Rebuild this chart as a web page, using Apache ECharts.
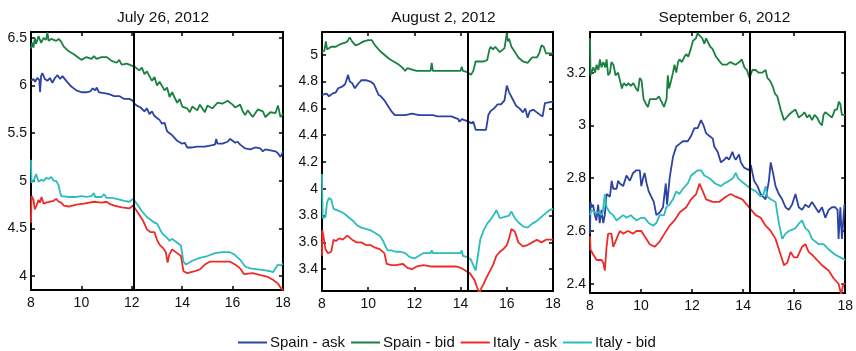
<!DOCTYPE html>
<html>
<head>
<meta charset="utf-8">
<script src="https://cdn.jsdelivr.net/npm/echarts@6/dist/echarts.min.js"></script>
<style>
html,body{margin:0;padding:0;background:#fff;}
#chart{width:856px;height:351px;}
</style>
</head>
<body>
<div id="chart"></div>
<script>
// ---------- DATA ----------
var panelTitles = ['July 26, 2012', 'August 2, 2012', 'September 6, 2012'];
var seriesNames = ['Spain - ask', 'Spain - bid', 'Italy - ask', 'Italy - bid'];
var eventTimes = [12.06, 14.30, 14.27];
var xTicks = [8, 10, 12, 14, 16, 18];
var yTicks1 = [4, 4.5, 5, 5.5, 6, 6.5];
var yTicks2 = [3.4, 3.6, 3.8, 4, 4.2, 4.4, 4.6, 4.8, 5];
var yTicks3 = [2.4, 2.6, 2.8, 3, 3.2];
var yRange1 = [3.853, 6.563];
var yRange2 = [3.237, 5.17];
var yRange3 = [2.365, 3.354];

// July 26, 2012
var julSpainAsk = [[8.0,6.05],[8.1,6.07],[8.16,6.04],[8.25,6.08],[8.33,6.06],[8.36,5.93],[8.4,6.1],[8.45,6.13],[8.55,6.07],[8.65,6.05],[8.75,6.08],[8.85,6.03],[8.95,6.08],[9.05,6.11],[9.15,6.07],[9.25,6.1],[9.4,6.05],[9.6,5.99],[9.8,5.95],[10.0,5.93],[10.2,5.93],[10.35,5.94],[10.45,5.97],[10.55,5.95],[10.6,5.98],[10.7,5.93],[10.9,5.92],[11.1,5.91],[11.3,5.89],[11.5,5.89],[11.7,5.86],[11.9,5.86],[12.05,5.84],[12.1,5.81],[12.2,5.79],[12.35,5.77],[12.5,5.73],[12.6,5.76],[12.7,5.7],[12.8,5.73],[12.9,5.68],[13.0,5.66],[13.1,5.64],[13.2,5.60],[13.3,5.61],[13.4,5.52],[13.5,5.5],[13.6,5.48],[13.8,5.42],[14.0,5.39],[14.1,5.4],[14.2,5.35],[14.4,5.35],[14.6,5.36],[14.9,5.36],[15.1,5.37],[15.3,5.38],[15.35,5.44],[15.4,5.39],[15.6,5.39],[15.8,5.41],[15.9,5.44],[16.0,5.42],[16.1,5.40],[16.2,5.41],[16.3,5.38],[16.5,5.34],[16.7,5.33],[16.9,5.35],[17.1,5.34],[17.2,5.31],[17.3,5.33],[17.5,5.32],[17.7,5.31],[17.8,5.29],[17.9,5.25],[18.0,5.31]];
var julSpainBid = [[8.0,6.39],[8.05,6.45],[8.1,6.40],[8.15,6.5],[8.2,6.44],[8.3,6.52],[8.4,6.45],[8.5,6.5],[8.6,6.48],[8.65,6.56],[8.7,6.47],[8.8,6.49],[9.0,6.47],[9.1,6.49],[9.2,6.46],[9.3,6.41],[9.5,6.36],[9.7,6.33],[9.9,6.29],[10.0,6.27],[10.2,6.30],[10.4,6.28],[10.5,6.31],[10.6,6.28],[10.8,6.30],[11.0,6.30],[11.2,6.26],[11.4,6.24],[11.5,6.27],[11.6,6.22],[11.8,6.23],[12.0,6.21],[12.1,6.20],[12.3,6.16],[12.4,6.19],[12.5,6.12],[12.6,6.15],[12.8,6.05],[12.9,6.09],[13.0,6.00],[13.1,6.04],[13.3,5.95],[13.4,5.98],[13.5,5.88],[13.6,5.93],[13.8,5.82],[13.9,5.86],[14.0,5.78],[14.2,5.76],[14.3,5.72],[14.4,5.78],[14.6,5.74],[14.7,5.80],[14.9,5.72],[15.0,5.79],[15.2,5.76],[15.4,5.82],[15.6,5.81],[15.8,5.84],[16.0,5.80],[16.1,5.77],[16.3,5.80],[16.4,5.73],[16.5,5.69],[16.6,5.74],[16.8,5.67],[17.0,5.75],[17.2,5.73],[17.3,5.67],[17.5,5.72],[17.7,5.71],[17.8,5.79],[17.9,5.67],[18.0,5.70]];
var julItalyAsk = [[8.0,4.56],[8.02,4.84],[8.1,4.80],[8.15,4.70],[8.22,4.74],[8.3,4.80],[8.35,4.77],[8.42,4.83],[8.5,4.76],[8.6,4.77],[8.75,4.78],[8.9,4.79],[9.0,4.81],[9.1,4.78],[9.2,4.77],[9.3,4.74],[9.5,4.73],[9.8,4.75],[10.1,4.76],[10.5,4.78],[10.8,4.77],[11.0,4.78],[11.1,4.76],[11.3,4.74],[11.6,4.72],[11.9,4.71],[12.05,4.74],[12.15,4.70],[12.3,4.64],[12.45,4.58],[12.6,4.49],[12.75,4.46],[12.9,4.46],[13.0,4.38],[13.1,4.33],[13.25,4.29],[13.35,4.25],[13.42,4.14],[13.48,4.22],[13.6,4.28],[13.8,4.24],[13.95,4.21],[14.05,4.05],[14.2,4.03],[14.5,4.05],[14.7,4.07],[14.9,4.12],[15.1,4.15],[15.5,4.15],[15.9,4.15],[16.1,4.12],[16.3,4.08],[16.45,4.02],[16.8,4.03],[17.1,4.01],[17.4,3.99],[17.6,3.96],[17.8,3.92],[17.9,3.88],[18.0,3.85]];
var julItalyBid = [[8.0,5.22],[8.02,4.98],[8.1,5.0],[8.2,5.07],[8.3,4.99],[8.4,5.01],[8.5,5.0],[8.6,5.03],[8.7,5.02],[8.8,5.04],[8.9,5.0],[9.0,5.0],[9.1,4.95],[9.15,4.88],[9.2,4.84],[9.5,4.83],[9.8,4.83],[10.0,4.84],[10.2,4.83],[10.4,4.84],[10.5,4.87],[10.55,4.83],[10.8,4.83],[10.9,4.86],[11.0,4.82],[11.2,4.82],[11.4,4.81],[11.7,4.79],[11.9,4.78],[12.05,4.81],[12.1,4.80],[12.25,4.74],[12.4,4.68],[12.6,4.62],[12.8,4.58],[12.9,4.56],[13.0,4.55],[13.1,4.5],[13.2,4.45],[13.4,4.4],[13.5,4.37],[13.6,4.39],[13.8,4.35],[13.95,4.32],[14.05,4.15],[14.15,4.12],[14.4,4.16],[14.7,4.19],[15.0,4.21],[15.3,4.24],[15.6,4.25],[15.9,4.25],[16.1,4.22],[16.3,4.17],[16.5,4.1],[16.7,4.08],[17.0,4.07],[17.3,4.06],[17.5,4.05],[17.6,4.04],[17.7,4.08],[17.8,4.12],[17.9,4.11],[18.0,4.13]];

// August 2, 2012
var augSpainAsk = [[8.0,4.7],[8.2,4.71],[8.3,4.69],[8.45,4.71],[8.6,4.72],[8.7,4.75],[8.85,4.76],[9.0,4.78],[9.13,4.85],[9.2,4.8],[9.3,4.79],[9.42,4.75],[9.55,4.78],[9.7,4.81],[9.9,4.81],[10.1,4.8],[10.25,4.78],[10.35,4.74],[10.45,4.7],[10.55,4.69],[10.7,4.66],[10.85,4.62],[11.0,4.58],[11.15,4.55],[11.4,4.55],[11.6,4.55],[11.9,4.56],[12.2,4.55],[12.5,4.55],[12.8,4.55],[13.0,4.54],[13.3,4.54],[13.6,4.54],[13.9,4.52],[13.95,4.5],[14.05,4.52],[14.2,4.51],[14.35,4.5],[14.45,4.49],[14.55,4.5],[14.65,4.44],[14.9,4.44],[15.1,4.44],[15.2,4.55],[15.3,4.58],[15.45,4.6],[15.6,4.63],[15.75,4.63],[15.9,4.66],[16.0,4.77],[16.1,4.72],[16.25,4.67],[16.4,4.62],[16.55,4.6],[16.7,4.57],[16.8,4.6],[16.9,4.53],[17.0,4.58],[17.15,4.59],[17.3,4.57],[17.45,4.55],[17.55,4.54],[17.65,4.64],[18.0,4.65]];
var augSpainBid = [[8.0,5.02],[8.1,5.03],[8.17,5.1],[8.22,5.04],[8.3,5.05],[8.4,5.06],[8.6,5.06],[8.8,5.08],[9.0,5.09],[9.1,5.1],[9.2,5.13],[9.3,5.1],[9.45,5.07],[9.6,5.08],[9.8,5.1],[10.0,5.11],[10.15,5.11],[10.3,5.07],[10.5,5.03],[10.7,5.0],[10.9,4.97],[11.1,4.95],[11.3,4.93],[11.5,4.9],[11.6,4.88],[11.7,4.9],[11.9,4.89],[12.1,4.88],[12.4,4.88],[12.7,4.88],[12.75,4.94],[12.8,4.88],[13.2,4.88],[13.6,4.88],[14.0,4.88],[14.05,4.91],[14.1,4.88],[14.3,4.87],[14.45,4.85],[14.55,4.88],[14.65,4.95],[15.0,4.95],[15.15,4.96],[15.25,5.04],[15.3,5.06],[15.4,5.04],[15.5,5.06],[15.7,5.02],[15.9,5.05],[16.0,5.16],[16.05,5.1],[16.1,5.12],[16.2,5.06],[16.35,5.02],[16.5,4.98],[16.7,4.95],[16.9,4.94],[17.1,4.98],[17.3,4.98],[17.4,5.01],[17.5,5.07],[17.6,5.06],[17.7,5.01],[18.0,5.01]];
var augItalyAsk = [[8.0,3.5],[8.01,3.69],[8.05,3.66],[8.1,3.67],[8.15,3.55],[8.25,3.52],[8.4,3.53],[8.5,3.62],[8.6,3.61],[8.75,3.63],[8.9,3.62],[9.1,3.65],[9.3,3.62],[9.5,3.6],[9.7,3.6],[9.9,3.58],[10.1,3.58],[10.3,3.56],[10.5,3.55],[10.7,3.52],[10.8,3.44],[11.0,3.43],[11.2,3.43],[11.5,3.44],[11.7,3.41],[11.9,3.4],[12.1,3.42],[12.4,3.43],[12.7,3.42],[12.75,3.41],[13.0,3.42],[13.4,3.42],[13.8,3.42],[14.0,3.41],[14.2,3.39],[14.4,3.37],[14.6,3.32],[14.7,3.27],[14.82,3.22],[14.9,3.26],[15.0,3.29],[15.1,3.33],[15.25,3.38],[15.4,3.43],[15.55,3.5],[15.7,3.53],[15.85,3.55],[16.0,3.58],[16.1,3.63],[16.2,3.7],[16.35,3.68],[16.5,3.6],[16.7,3.57],[16.9,3.58],[17.1,3.6],[17.3,3.62],[17.5,3.6],[17.7,3.62],[18.0,3.62]];
var augItalyBid = [[8.0,4.11],[8.03,3.78],[8.15,3.79],[8.22,3.9],[8.3,3.93],[8.4,3.92],[8.5,3.85],[8.65,3.84],[8.8,3.83],[9.0,3.81],[9.2,3.78],[9.35,3.76],[9.5,3.73],[9.7,3.71],[9.9,3.7],[10.1,3.69],[10.3,3.67],[10.5,3.65],[10.65,3.61],[10.75,3.57],[10.85,3.54],[11.0,3.54],[11.2,3.53],[11.4,3.53],[11.6,3.52],[11.8,3.49],[12.0,3.48],[12.2,3.5],[12.4,3.52],[12.7,3.52],[12.75,3.54],[12.8,3.52],[13.2,3.52],[13.6,3.52],[14.0,3.52],[14.05,3.54],[14.1,3.5],[14.3,3.49],[14.45,3.47],[14.55,3.43],[14.65,3.39],[14.75,3.5],[14.85,3.62],[15.0,3.69],[15.15,3.74],[15.3,3.77],[15.45,3.81],[15.55,3.84],[15.7,3.78],[15.9,3.79],[16.1,3.8],[16.2,3.83],[16.35,3.78],[16.5,3.75],[16.7,3.72],[16.9,3.71],[17.1,3.74],[17.3,3.76],[17.5,3.79],[17.7,3.82],[17.85,3.84],[18.0,3.85]];

// September 6, 2012
var sepSpainAsk = [[8.0,2.59],[8.02,2.71],[8.06,2.69],[8.12,2.7],[8.19,2.66],[8.25,2.64],[8.32,2.7],[8.38,2.63],[8.45,2.68],[8.52,2.63],[8.58,2.66],[8.65,2.74],[8.78,2.73],[8.85,2.79],[8.91,2.76],[9.04,2.76],[9.1,2.79],[9.17,2.78],[9.3,2.77],[9.43,2.81],[9.56,2.79],[9.69,2.82],[9.82,2.83],[9.95,2.83],[10.01,2.77],[10.08,2.8],[10.14,2.82],[10.22,2.78],[10.3,2.75],[10.4,2.73],[10.5,2.71],[10.6,2.66],[10.73,2.67],[10.86,2.69],[10.92,2.74],[10.97,2.78],[11.02,2.7],[11.12,2.8],[11.25,2.88],[11.38,2.92],[11.51,2.93],[11.64,2.94],[11.83,2.94],[11.96,2.96],[12.09,2.99],[12.22,2.99],[12.35,3.02],[12.45,3.0],[12.55,2.97],[12.68,2.96],[12.81,2.95],[12.87,2.92],[13.0,2.9],[13.13,2.86],[13.26,2.87],[13.35,2.88],[13.45,2.87],[13.58,2.9],[13.65,2.88],[13.71,2.87],[13.84,2.89],[13.91,2.86],[14.04,2.84],[14.23,2.83],[14.3,2.85],[14.43,2.79],[14.56,2.77],[14.69,2.74],[14.88,2.72],[15.01,2.79],[15.08,2.86],[15.17,2.82],[15.27,2.77],[15.4,2.74],[15.53,2.72],[15.66,2.69],[15.79,2.68],[15.92,2.7],[16.05,2.74],[16.18,2.69],[16.31,2.68],[16.44,2.7],[16.57,2.69],[16.7,2.71],[16.83,2.69],[16.96,2.67],[17.09,2.69],[17.22,2.65],[17.35,2.68],[17.48,2.69],[17.61,2.69],[17.7,2.68],[17.74,2.57],[17.81,2.69],[17.87,2.57],[17.97,2.7],[18.0,2.7]];
var sepSpainBid = [[8.0,3.33],[8.02,3.19],[8.13,3.22],[8.2,3.2],[8.26,3.23],[8.33,3.21],[8.39,3.25],[8.45,3.22],[8.52,3.24],[8.6,3.22],[8.65,3.25],[8.71,3.19],[8.78,3.2],[8.84,3.24],[8.92,3.23],[9.0,3.19],[9.1,3.2],[9.17,3.2],[9.25,3.14],[9.32,3.16],[9.43,3.15],[9.5,3.16],[9.6,3.15],[9.7,3.16],[9.8,3.14],[9.88,3.13],[9.95,3.18],[10.02,3.17],[10.1,3.1],[10.2,3.08],[10.27,3.07],[10.35,3.1],[10.45,3.1],[10.6,3.1],[10.7,3.11],[10.8,3.09],[10.9,3.07],[11.0,3.1],[11.05,3.19],[11.1,3.14],[11.18,3.17],[11.25,3.2],[11.31,3.23],[11.38,3.2],[11.45,3.24],[11.51,3.25],[11.6,3.24],[11.7,3.26],[11.77,3.27],[11.85,3.26],[11.95,3.29],[12.03,3.32],[12.15,3.33],[12.22,3.35],[12.3,3.34],[12.4,3.33],[12.48,3.31],[12.55,3.33],[12.61,3.33],[12.7,3.3],[12.8,3.29],[12.94,3.26],[13.1,3.24],[13.19,3.23],[13.35,3.23],[13.5,3.24],[13.7,3.23],[13.85,3.24],[13.95,3.25],[14.05,3.22],[14.15,3.21],[14.25,3.18],[14.36,3.21],[14.5,3.21],[14.6,3.2],[14.75,3.2],[14.88,3.21],[14.95,3.18],[15.05,3.17],[15.15,3.15],[15.25,3.12],[15.34,3.11],[15.47,3.06],[15.6,3.02],[15.7,3.03],[15.79,3.04],[15.9,3.05],[16.05,3.06],[16.18,3.03],[16.31,3.04],[16.4,3.05],[16.51,3.03],[16.6,3.04],[16.7,3.02],[16.8,3.04],[16.9,3.03],[17.0,3.01],[17.09,3.0],[17.15,3.04],[17.22,3.05],[17.35,3.04],[17.48,3.03],[17.6,3.06],[17.68,3.06],[17.75,3.09],[17.81,3.08],[17.87,3.04],[18.0,3.04]];
var sepItalyAsk = [[8.0,2.58],[8.02,2.53],[8.13,2.51],[8.26,2.49],[8.45,2.49],[8.52,2.48],[8.58,2.45],[8.65,2.54],[8.71,2.59],[8.84,2.59],[8.91,2.54],[9.04,2.57],[9.17,2.6],[9.3,2.59],[9.49,2.6],[9.69,2.59],[9.82,2.6],[10.01,2.6],[10.14,2.58],[10.34,2.55],[10.53,2.54],[10.73,2.56],[10.92,2.59],[11.12,2.62],[11.31,2.64],[11.51,2.67],[11.77,2.69],[11.96,2.72],[12.16,2.74],[12.29,2.78],[12.42,2.75],[12.55,2.72],[12.81,2.71],[13.06,2.71],[13.32,2.73],[13.51,2.74],[13.71,2.73],[13.97,2.72],[14.23,2.69],[14.49,2.66],[14.69,2.65],[14.88,2.62],[15.08,2.6],[15.27,2.57],[15.47,2.51],[15.6,2.47],[15.73,2.48],[15.86,2.52],[15.99,2.5],[16.12,2.5],[16.31,2.54],[16.44,2.55],[16.57,2.52],[16.7,2.51],[16.9,2.49],[17.09,2.47],[17.35,2.45],[17.55,2.42],[17.74,2.4],[17.84,2.36],[17.93,2.4],[18.0,2.4]];
var sepItalyBid = [[8.0,2.66],[8.05,2.68],[8.2,2.67],[8.35,2.67],[8.45,2.66],[8.5,2.67],[8.58,2.74],[8.65,2.69],[8.78,2.67],[8.91,2.66],[9.04,2.64],[9.17,2.65],[9.3,2.66],[9.43,2.65],[9.6,2.66],[9.7,2.65],[9.82,2.64],[10.0,2.65],[10.14,2.65],[10.3,2.63],[10.47,2.62],[10.6,2.63],[10.73,2.66],[10.9,2.66],[10.99,2.69],[11.12,2.7],[11.25,2.72],[11.38,2.75],[11.5,2.74],[11.64,2.76],[11.83,2.78],[11.96,2.81],[12.09,2.82],[12.22,2.83],[12.35,2.83],[12.48,2.81],[12.68,2.8],[12.9,2.78],[13.13,2.77],[13.26,2.78],[13.45,2.79],[13.6,2.8],[13.71,2.82],[13.8,2.8],[13.91,2.79],[14.04,2.78],[14.3,2.76],[14.5,2.75],[14.69,2.73],[14.8,2.74],[14.88,2.77],[14.95,2.73],[15.08,2.72],[15.27,2.71],[15.4,2.63],[15.53,2.57],[15.66,2.59],[15.79,2.6],[16.05,2.61],[16.2,2.63],[16.31,2.64],[16.44,2.61],[16.57,2.6],[16.7,2.57],[16.96,2.55],[17.15,2.55],[17.35,2.53],[17.61,2.51],[17.81,2.5],[18.0,2.49]];

// ---------- CHART ----------
var colors = ['#2c43a3', '#1a8040', '#ee2b26', '#2cbcbc'];
var panelData = [
  [julSpainAsk, julSpainBid, julItalyAsk, julItalyBid],
  [augSpainAsk, augSpainBid, augItalyAsk, augItalyBid],
  [sepSpainAsk, sepSpainBid, sepItalyAsk, sepItalyBid]
];
var yTicksAll = [yTicks1, yTicks2, yTicks3];
var yRanges = [yRange1, yRange2, yRange3];
var grids = [
  {left: 31, top: 32, width: 252, height: 258},
  {left: 322, top: 32, width: 231, height: 259},
  {left: 590, top: 32, width: 257, height: 261}
];
var FONT = '"Liberation Sans", Arial, sans-serif';

function fmt(v) { return String(parseFloat(Number(v).toFixed(2))); }

var option = {
  animation: false,
  backgroundColor: '#fff',
  title: [],
  grid: [],
  xAxis: [],
  yAxis: [],
  series: [],
  legend: {
    data: seriesNames,
    left: 233,
    top: 330,
    icon: 'rect',
    itemWidth: 29,
    itemHeight: 2,
    itemGap: 6,
    textStyle: {fontFamily: FONT, fontSize: 15, color: '#111', padding: [0, 0, 0, -2]}
  }
};

grids.forEach(function (g, i) {
  option.grid.push({left: g.left, top: g.top, width: g.width, height: g.height, containLabel: false});
  option.title.push({
    text: panelTitles[i],
    left: g.left + g.width / 2 + 1,
    top: 5,
    textAlign: 'center',
    textStyle: {fontFamily: FONT, fontSize: 15.5, fontWeight: 'normal', color: '#111'}
  });
  var tickStyle = {show: true, inside: true, length: 4, lineStyle: {color: '#000', width: 1.5}};
  var lineStyle = {show: true, onZero: false, lineStyle: {color: '#000', width: 2}};
  // bottom x
  option.xAxis.push({
    type: 'value', gridIndex: i, position: 'bottom', min: 8, max: 18, interval: 2,
    axisLine: lineStyle, axisTick: tickStyle, splitLine: {show: false},
    axisLabel: {show: true, margin: 6, fontFamily: FONT, fontSize: 14, color: '#111',
      customValues: xTicks}
  });
  // top x
  option.xAxis.push({
    type: 'value', gridIndex: i, position: 'top', min: 8, max: 18, interval: 2,
    axisLine: lineStyle, axisTick: tickStyle, splitLine: {show: false},
    axisLabel: {show: false}
  });
  var yr = yRanges[i], yt = yTicksAll[i];
  option.yAxis.push({
    type: 'value', gridIndex: i, position: 'left', min: yr[0], max: yr[1],
    axisLine: lineStyle,
    axisTick: {show: true, inside: true, length: 4, lineStyle: {color: '#000', width: 1.5}, customValues: yt},
    splitLine: {show: false},
    axisLabel: {show: true, margin: 4, fontFamily: FONT, fontSize: 14, color: '#111',
      customValues: yt, formatter: fmt}
  });
  option.yAxis.push({
    type: 'value', gridIndex: i, position: 'right', min: yr[0], max: yr[1],
    axisLine: lineStyle,
    axisTick: {show: true, inside: true, length: 4, lineStyle: {color: '#000', width: 1.5}, customValues: yt},
    splitLine: {show: false},
    axisLabel: {show: false, customValues: yt}
  });
  panelData[i].forEach(function (d, k) {
    var s = {
      name: seriesNames[k],
      type: 'line',
      xAxisIndex: i * 2,
      yAxisIndex: i * 2,
      data: d,
      symbol: 'none',
      showSymbol: false,
      color: colors[k],
      lineStyle: {color: colors[k], width: 1.8},
      z: 2
    };
    if (k === 0) {
      s.markLine = {
        silent: true,
        symbol: ['none', 'none'],
        label: {show: false},
        lineStyle: {color: '#000', width: 2, type: 'solid'},
        z: 5,
        data: [{xAxis: eventTimes[i]}]
      };
    }
    option.series.push(s);
  });
});

var chart = echarts.init(document.getElementById('chart'), null, {renderer: 'canvas'});
chart.setOption(option);
</script>
</body>
</html>
